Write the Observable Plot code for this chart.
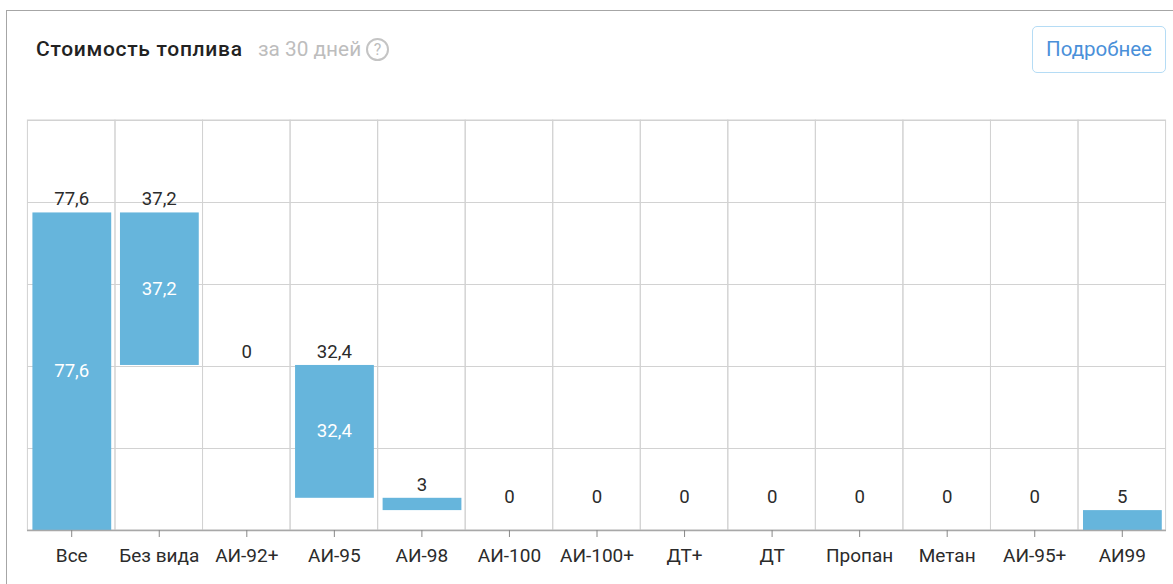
<!DOCTYPE html>
<html lang="ru">
<head>
<meta charset="utf-8">
<script src="https://cdn.jsdelivr.net/npm/d3@7"></script>
<script src="https://cdn.jsdelivr.net/npm/@observablehq/plot@0.6"></script>
<style>
html,body{margin:0;padding:0;background:#fff;overflow:hidden;font-family:Roboto,sans-serif}
#page{position:relative;width:1173px;height:584px;overflow:hidden}
#card{position:absolute;left:6px;top:10px;width:1180px;height:600px;border-top:1.5px solid #a6a6a6;border-left:1.5px solid #a6a6a6;box-sizing:border-box}
#title{position:absolute;left:36px;top:38px;font-size:21px;font-weight:500;color:#222;line-height:22px;white-space:nowrap;letter-spacing:.7px}
#sub{position:absolute;left:258px;top:38px;font-size:20.8px;font-weight:400;color:#bdbdbd;line-height:22px;white-space:nowrap}
#help{position:absolute;left:366px;top:38px;width:23px;height:23px;border:2px solid #c4c4c4;border-radius:50%;box-sizing:border-box;color:#bdbdbd;font-size:16px;line-height:19px;text-align:center}
#more{position:absolute;left:1032px;top:26px;width:134px;height:47px;border:1.5px solid #b5dcf5;border-radius:5px;box-sizing:border-box;color:#4a90d9;font-size:20.5px;line-height:44px;text-align:center}
#chart{position:absolute;left:0;top:0}
svg{display:block}
</style>
</head>
<body>
<div id="page">
<div id="card"></div>
<div id="chart"></div>
<div id="title">Стоимость топлива</div>
<div id="sub">за 30 дней</div>
<div id="help">?</div>
<div id="more">Подробнее</div>
</div>
<script>
const categories = ["Все","Без вида","АИ-92+","АИ-95","АИ-98","АИ-100","АИ-100+","ДТ+","ДТ","Пропан","Метан","АИ-95+","АИ99"];
const amounts = [77.6,37.2,0,32.4,3,0,0,0,0,0,0,0,5];
const bases = [0,40.4,40.4,8,5,5,5,5,5,5,5,5,0];
const gridTicks = [0,20,40,60,80,100];

const rows = categories.map((name,i)=>({name,amount:amounts[i],base:bases[i],top:bases[i]+amounts[i],mid:bases[i]+amounts[i]/2}));
const fmt = v => String(v).replace(".",",");
const grid = "#d2d2d2";

const plot = Plot.plot({
  width:1173, height:584,
  marginLeft:27, marginRight:7, marginTop:120, marginBottom:54,
  style:{fontFamily:"Roboto, sans-serif", background:"transparent"},
  x:{domain:categories, paddingInner:0.1, paddingOuter:0.055, round:false, label:null},
  y:{domain:[0,100], label:null},
  marks:[
    Plot.ruleY(gridTicks,{y:d=>d,stroke:grid,strokeWidth:1,strokeOpacity:1}),
    Plot.barY(rows,{x:"name",y1:0,y2:100,fill:"none",stroke:grid,strokeWidth:1,insetLeft:-4.4,insetRight:-4.4}),
    Plot.barY(rows.filter(d=>d.amount>0),{x:"name",y1:"base",y2:"top",fill:"#66b5dc",dx:0.6,dy:0.6}),
    Plot.text(rows,{x:"name",y:"top",text:d=>fmt(d.amount),dy:-7,lineAnchor:"bottom",fontSize:18.6,fill:"#2b2b2b"}),
    Plot.text(rows.filter(d=>d.amount>=10),{x:"name",y:"mid",text:d=>fmt(d.amount),fontSize:18.6,fill:"#fff"}),
    Plot.ruleY([0],{stroke:"#a8a8a8",strokeWidth:1.5}),
    Plot.axisX({tickSize:7,tickPadding:11,fontSize:19,color:"#2b2b2b",stroke:"#888",label:null}),
    Plot.axisY({ticks:[],label:null})
  ]
});
document.getElementById("chart").append(plot);
</script>
</body>
</html>
